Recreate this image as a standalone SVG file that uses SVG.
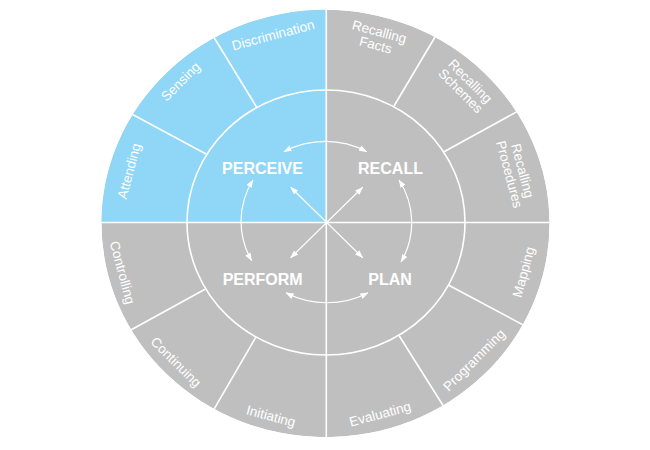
<svg xmlns="http://www.w3.org/2000/svg" width="650" height="450" viewBox="0 0 650 450">
  <style>
    .lab { font-family: "Liberation Sans", Arial, sans-serif; font-size: 13.5px; fill: #ffffff; text-anchor: middle; }
    .main { font-family: "Liberation Sans", Arial, sans-serif; font-size: 16px; font-weight: bold; fill: #ffffff; text-anchor: middle; }
    .wl { stroke: #ffffff; stroke-width: 1.6; fill: none; }
    .conn { stroke: #ffffff; stroke-width: 1.2; fill: none; marker-start: url(#ah); marker-end: url(#ah); }
  </style>
  <defs>
    <clipPath id="outer">
      <ellipse cx="325.5" cy="223.5" rx="224" ry="213.7"/>
    </clipPath>
    <marker id="ah" viewBox="0 0 8 6" refX="7.6" refY="3" markerWidth="8" markerHeight="6" markerUnits="userSpaceOnUse" orient="auto-start-reverse">
      <path d="M0,0 L8,3 L0,6 z" fill="#ffffff"/>
    </marker>
  </defs>
  <rect width="650" height="450" fill="#ffffff"/>

  <g id="wheel" clip-path="url(#outer)">
    <ellipse cx="325.5" cy="223.5" rx="224" ry="213.7" fill="#bfbfbf"/>
    <rect x="0" y="0" width="326.3" height="222.5" fill="#8fd6f7"/>
    <ellipse class="wl" cx="326" cy="222.5" rx="139" ry="132.5"/>
    <line class="wl" x1="90" y1="222.5" x2="560" y2="222.5"/>
    <line class="wl" x1="326.3" y1="0" x2="326.3" y2="450"/>
    <line class="wl" x1="256.7" y1="107.3" x2="211" y2="32.5"/>
    <line class="wl" x1="206" y1="154" x2="126.5" y2="111.3"/>
    <line class="wl" x1="394" y1="106" x2="438" y2="32"/>
    <line class="wl" x1="444" y1="151.7" x2="522" y2="108.9"/>
    <line class="wl" x1="448.3" y1="285" x2="530" y2="328.6"/>
    <line class="wl" x1="399.3" y1="336" x2="447" y2="411.8"/>
    <line class="wl" x1="255.7" y1="337.3" x2="210" y2="416.2"/>
    <line class="wl" x1="205" y1="289.3" x2="124" y2="333.7"/>
  </g>

  <g id="perceive"><text class="main" x="262.5" y="174">PERCEIVE</text></g>
  <g id="recall"><text class="main" x="390.5" y="174">RECALL</text></g>
  <g id="perform"><text class="main" x="262.7" y="284.7">PERFORM</text></g>
  <g id="plan"><text class="main" x="390" y="284.7">PLAN</text></g>

  <g id="discrimination"><text class="lab" transform="translate(273,35) rotate(-15)" y="4.7">Discrimination</text></g>
  <g id="sensing"><text class="lab" transform="translate(180.5,81.5) rotate(-45)" y="4.7">Sensing</text></g>
  <g id="attending"><text class="lab" transform="translate(129,171) rotate(-75)" y="4.7">Attending</text></g>
  <g id="recalling-facts"><text class="lab" transform="translate(377.5,38.3) rotate(15)"><tspan x="0" y="-2.2">Recalling</tspan><tspan x="0" y="11.5">Facts</tspan></text></g>
  <g id="recalling-schemes"><text class="lab" transform="translate(465.5,86) rotate(45)"><tspan x="0" y="-2.2">Recalling</tspan><tspan x="0" y="11.5">Schemes</tspan></text></g>
  <g id="recalling-procedures"><text class="lab" transform="translate(516,172.5) rotate(75)"><tspan x="0" y="-2.2">Recalling</tspan><tspan x="0" y="11.5">Procedures</tspan></text></g>
  <g id="mapping"><text class="lab" transform="translate(523.5,272) rotate(-75)" y="4.7">Mapping</text></g>
  <g id="programming"><text class="lab" transform="translate(474,360) rotate(-45)" y="4.7">Programming</text></g>
  <g id="evaluating"><text class="lab" transform="translate(380,414) rotate(-15)" y="4.7">Evaluating</text></g>
  <g id="initiating"><text class="lab" transform="translate(271,416) rotate(15)" y="4.7">Initiating</text></g>
  <g id="continuing"><text class="lab" transform="translate(176,362) rotate(45)" y="4.7">Continuing</text></g>
  <g id="controlling"><text class="lab" transform="translate(122.5,272.5) rotate(75)" y="4.7">Controlling</text></g>

  <g id="connectors">
    <path class="conn" d="M284,151.7 A85,81 0 0 1 366.7,151.7"/>
    <path class="conn" d="M399,180 A85,81 0 0 1 401,262"/>
    <path class="conn" d="M368,292.7 A85,81 0 0 1 286,292.7"/>
    <path class="conn" d="M251.7,260.7 A85,81 0 0 1 253,180"/>
    <path class="conn" d="M290.7,187.3 L362.7,257.7"/>
    <path class="conn" d="M362.7,187.3 L290.7,257.7"/>
  </g>
</svg>
